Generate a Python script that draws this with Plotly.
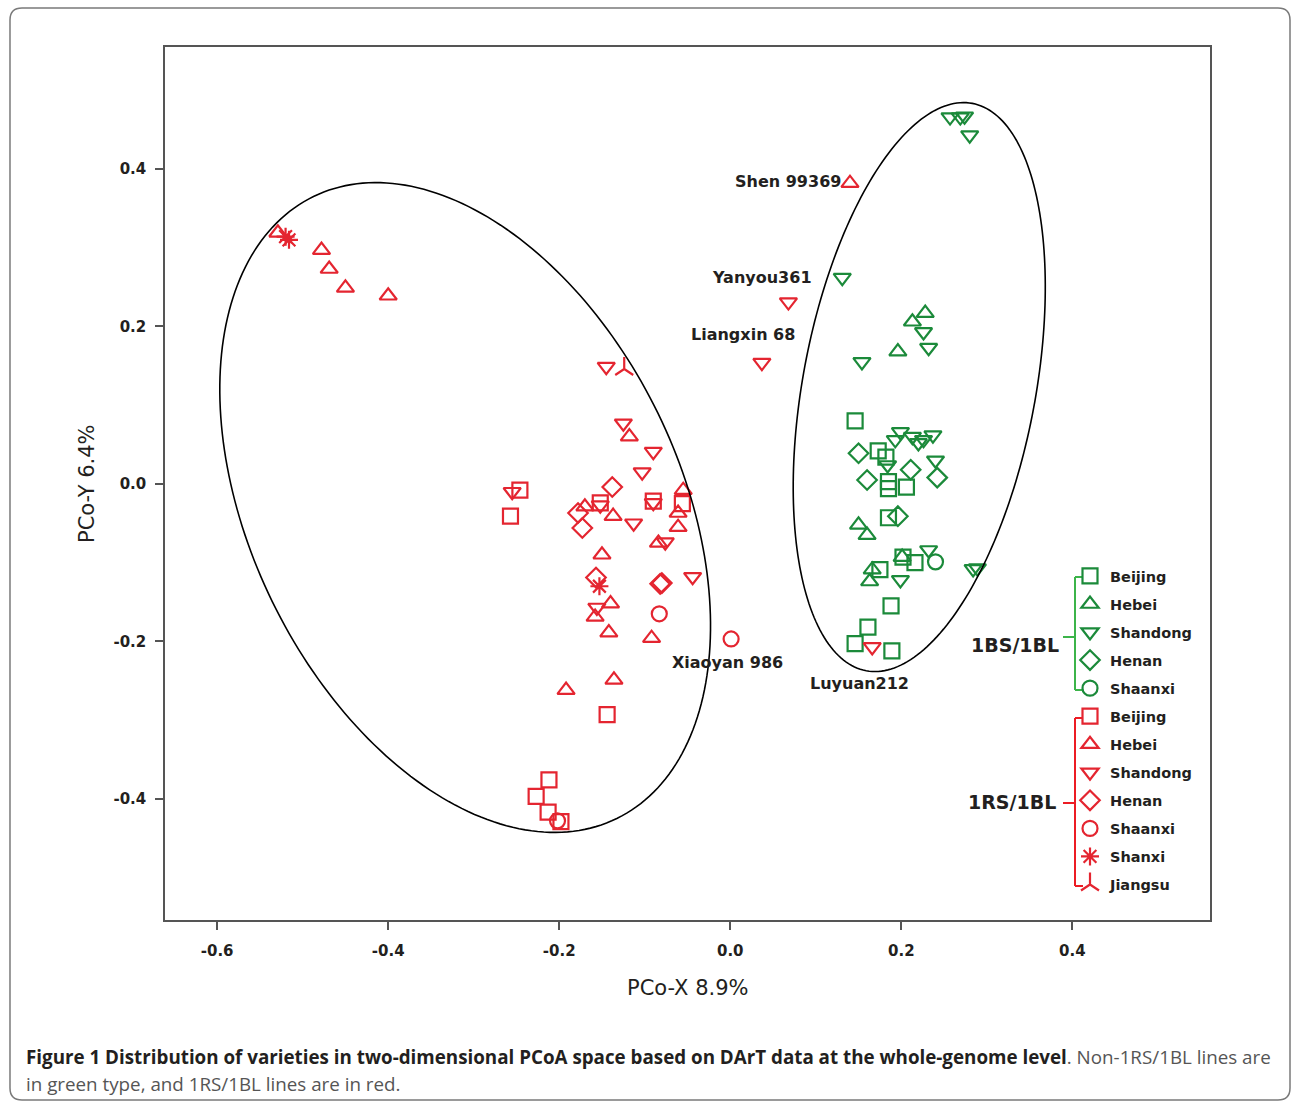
import numpy as np
import plotly.graph_objects as go

# ---------------- data (PCo-X, PCo-Y) ----------------
# 1BS/1BL (green)
g_beijing_x = [0.146, 0.173, 0.182, 0.185, 0.185, 0.206, 0.185, 0.202, 0.216, 0.175, 0.188, 0.161, 0.146, 0.189]
g_beijing_y = [0.080, 0.042, 0.034, 0.003, -0.006, -0.004, -0.043, -0.093, -0.100, -0.109, -0.155, -0.182, -0.203, -0.212]
g_hebei_x = [0.228, 0.213, 0.196, 0.150, 0.160, 0.201, 0.166, 0.163]
g_hebei_y = [0.217, 0.206, 0.168, -0.052, -0.065, -0.093, -0.109, -0.124]
g_shandong_x = [0.257, 0.269, 0.274, 0.280, 0.131, 0.226, 0.232, 0.154, 0.199, 0.193, 0.213, 0.220,
                0.237, 0.226, 0.184, 0.240, 0.232, 0.199, 0.289, 0.284]
g_shandong_y = [0.466, 0.466, 0.467, 0.443, 0.262, 0.193, 0.173, 0.155, 0.066, 0.056, 0.060, 0.052,
                0.062, 0.056, 0.024, 0.030, -0.084, -0.122, -0.107, -0.108]
g_henan_x = [0.150, 0.211, 0.160, 0.242, 0.196]
g_henan_y = [0.039, 0.018, 0.005, 0.008, -0.041]
g_shaanxi_x = [0.240]
g_shaanxi_y = [-0.099]

# 1RS/1BL (red)
r_beijing_x = [-0.246, -0.257, -0.090, -0.056, -0.152, -0.144, -0.212, -0.227, -0.213, -0.198]
r_beijing_y = [-0.008, -0.041, -0.022, -0.025, -0.024, -0.293, -0.376, -0.397, -0.417, -0.429]
r_hebei_x = [-0.529, -0.478, -0.469, -0.450, -0.400, 0.140, -0.118, -0.055, -0.061, -0.061, -0.137,
             -0.170, -0.084, -0.150, -0.140, -0.158, -0.142, -0.092, -0.136, -0.192]
r_hebei_y = [0.319, 0.297, 0.273, 0.249, 0.239, 0.382, 0.060, -0.008, -0.037, -0.055, -0.041,
             -0.029, -0.075, -0.090, -0.152, -0.169, -0.189, -0.196, -0.249, -0.262]
r_shandong_x = [-0.145, -0.125, -0.090, -0.103, -0.255, -0.090, -0.152, -0.113, -0.076, -0.044,
                -0.156, 0.068, 0.037, 0.166]
r_shandong_y = [0.149, 0.077, 0.041, 0.015, -0.010, -0.024, -0.027, -0.050, -0.074, -0.118,
                -0.157, 0.231, 0.154, -0.207]
r_henan_x = [-0.138, -0.178, -0.173, -0.157, -0.080, -0.082]
r_henan_y = [-0.004, -0.037, -0.056, -0.119, -0.126, -0.127]
r_shaanxi_x = [-0.083, 0.001, -0.202]
r_shaanxi_y = [-0.165, -0.197, -0.428]
r_shanxi_x = [-0.516, -0.520, -0.153]
r_shanxi_y = [0.310, 0.314, -0.130]
r_jiangsu_x = [-0.124]
r_jiangsu_y = [0.146]

# labelled varieties
label_names = ["Shen 99369", "Yanyou361", "Liangxin 68", "Xiaoyan 986", "Luyuan212"]
label_x = [0.140, 0.068, 0.037, 0.001, 0.166]
label_y = [0.382, 0.231, 0.154, -0.197, -0.207]

# tick labels
x_tickvals = [-0.6, -0.4, -0.2, 0.0, 0.2, 0.4]
x_ticktext = ["-0.6", "-0.4", "-0.2", "0.0", "0.2", "0.4"]
y_tickvals = [-0.4, -0.2, 0.0, 0.2, 0.4]
y_ticktext = ["-0.4", "-0.2", "0.0", "0.2", "0.4"]

# ---------------- layout constants ----------------
W, H = 1292, 1102
ML, MR, MT, MB = 165, 82, 47, 182
PW, PH = W - ML - MR, H - MT - MB
X_RANGE = [-0.661, 0.561]
Y_RANGE = [-0.554, 0.555]
PX_X = PW / (X_RANGE[1] - X_RANGE[0])
PX_Y = PH / (Y_RANGE[1] - Y_RANGE[0])

GREEN = "#1b8a3a"
RED = "#e42530"
BR_GREEN = "#3cb44a"
BR_RED = "#ec1c24"
TXT = "#231f20"


def paper_x(p):
    return (p - ML) / PW


def paper_y(p):
    return (H - MB - p) / PH


fig = go.Figure()

groups = [
    ("Beijing", "square-open", GREEN, g_beijing_x, g_beijing_y),
    ("Hebei", "triangle-up-open", GREEN, g_hebei_x, g_hebei_y),
    ("Shandong", "triangle-down-open", GREEN, g_shandong_x, g_shandong_y),
    ("Henan", "diamond-open", GREEN, g_henan_x, g_henan_y),
    ("Shaanxi", "circle-open", GREEN, g_shaanxi_x, g_shaanxi_y),
    ("Beijing", "square-open", RED, r_beijing_x, r_beijing_y),
    ("Hebei", "triangle-up-open", RED, r_hebei_x, r_hebei_y),
    ("Shandong", "triangle-down-open", RED, r_shandong_x, r_shandong_y),
    ("Henan", "diamond-open", RED, r_henan_x, r_henan_y),
    ("Shaanxi", "circle-open", RED, r_shaanxi_x, r_shaanxi_y),
    ("Shanxi", "asterisk-open", RED, r_shanxi_x, r_shanxi_y),
    ("Jiangsu", "y-up-open", RED, r_jiangsu_x, r_jiangsu_y),
]

for i, (name, sym, col, xs, ys) in enumerate(groups):
    fig.add_trace(go.Scatter(
        x=xs, y=ys, mode="markers", name=name, legendgroup=f"g{i}",
        marker=dict(symbol=sym, size=15, color=col, line=dict(width=2.2, color=col)),
    ))

# ---------------- ellipses (decoration) ----------------
ellipses = [
    # center (data), semi-axes (px), rotation (deg, screen space)
    (-0.310, -0.030, 346, 214.6, 64.0),
    (0.221, 0.123, 288.6, 116.3, -79.4),
]
shapes = []
t = np.linspace(0, 2 * np.pi, 241)
for cx, cy, a, b, th in ellipses:
    th = np.deg2rad(th)
    dxp = a * np.cos(th) * np.cos(t) - b * np.sin(th) * np.sin(t)
    dyp = a * np.sin(th) * np.cos(t) + b * np.cos(th) * np.sin(t)
    xs = cx + dxp / PX_X
    ys = cy - dyp / PX_Y
    path = "M " + " L ".join(f"{x:.5f},{y:.5f}" for x, y in zip(xs, ys)) + " Z"
    shapes.append(dict(type="path", xref="x", yref="y", path=path,
                       line=dict(color="black", width=1.6), layer="above"))

# ---------------- legend brackets ----------------
def seg(x0, y0, x1, y1, col):
    return dict(type="line", xref="paper", yref="paper",
                x0=paper_x(x0), y0=paper_y(y0), x1=paper_x(x1), y1=paper_y(y1),
                line=dict(color=col, width=2))

shapes += [
    seg(1075, 577, 1075, 690, BR_GREEN), seg(1075, 577, 1083, 577, BR_GREEN),
    seg(1075, 690, 1082, 690, BR_GREEN), seg(1063, 637, 1075, 637, BR_GREEN),
    seg(1075, 718, 1075, 886, BR_RED), seg(1075, 718, 1083, 718, BR_RED),
    seg(1075, 886, 1083, 886, BR_RED), seg(1063, 803, 1075, 803, BR_RED),
]

# outer rounded frame
r = 12
x0, y0, x1, y1 = 10, 8, 1290, 1100
fx = lambda p: f"{paper_x(p):.5f}"
fy = lambda p: f"{paper_y(p):.5f}"
frame_path = (f"M {fx(x0 + r)},{fy(y0)} L {fx(x1 - r)},{fy(y0)} Q {fx(x1)},{fy(y0)} {fx(x1)},{fy(y0 + r)} "
              f"L {fx(x1)},{fy(y1 - r)} Q {fx(x1)},{fy(y1)} {fx(x1 - r)},{fy(y1)} "
              f"L {fx(x0 + r)},{fy(y1)} Q {fx(x0)},{fy(y1)} {fx(x0)},{fy(y1 - r)} "
              f"L {fx(x0)},{fy(y0 + r)} Q {fx(x0)},{fy(y0)} {fx(x0 + r)},{fy(y0)} Z")
shapes.append(dict(type="path", xref="paper", yref="paper", path=frame_path,
                   line=dict(color="#7a7a7a", width=1.5)))

# ---------------- annotations ----------------
ann = []
lab_font = dict(family="DejaVu Sans", size=16, color=TXT, weight="bold")
shifts = [  # (xanchor, xshift, yshift)
    ("right", -7, 2),
    ("right", 26, 25),
    ("right", 35, 28),
    ("center", -4, -24),
    ("center", -13, -37),
]
for nm, lx, ly, (xa, xs_, ys_) in zip(label_names, label_x, label_y, shifts):
    ann.append(dict(x=lx, y=ly, xref="x", yref="y", text=nm, showarrow=False,
                    xanchor=xa, yanchor="middle", xshift=xs_, yshift=ys_, font=lab_font))

ann.append(dict(x=paper_x(1061), y=paper_y(645), xref="paper", yref="paper", text="1BS/1BL",
                showarrow=False, xanchor="right", yanchor="middle",
                font=dict(family="DejaVu Sans", size=19, color=TXT, weight="bold")))
ann.append(dict(x=paper_x(1058), y=paper_y(802), xref="paper", yref="paper", text="1RS/1BL",
                showarrow=False, xanchor="right", yanchor="middle",
                font=dict(family="DejaVu Sans", size=19, color=TXT, weight="bold")))

# axis titles
ann.append(dict(x=0.5, y=paper_y(988), xref="paper", yref="paper", text="PCo-X 8.9%",
                showarrow=False, xanchor="center", yanchor="middle",
                font=dict(family="DejaVu Sans", size=21, color=TXT)))
ann.append(dict(x=paper_x(87), y=paper_y(484), xref="paper", yref="paper", text="PCo-Y 6.4%",
                showarrow=False, xanchor="center", yanchor="middle", textangle=-90,
                font=dict(family="DejaVu Sans", size=21, color=TXT)))

# caption
cap_font = dict(family="Open Sans", size=18.8, color="#555555")
ann.append(dict(x=paper_x(24), y=paper_y(1057), xref="paper", yref="paper",
                text="<b style='color:#231f20'>Figure 1 Distribution of varieties in two-dimensional PCoA space based on DArT data at the whole-genome level</b>. Non-1RS/1BL lines are",
                showarrow=False, xanchor="left", yanchor="middle", font=cap_font))
ann.append(dict(x=paper_x(24), y=paper_y(1084), xref="paper", yref="paper",
                text="in green type, and 1RS/1BL lines are in red.",
                showarrow=False, xanchor="left", yanchor="middle", font=cap_font))

axis_common = dict(
    showgrid=False, zeroline=False, showline=True, mirror=True,
    linecolor="#555555", linewidth=1.5, ticks="outside", ticklen=8, tickwidth=1.5,
    tickcolor="#555555", tickfont=dict(family="DejaVu Sans", size=15, color=TXT, weight="bold"),
)

fig.update_layout(
    width=W, height=H,
    margin=dict(l=ML, r=MR, t=MT, b=MB),
    paper_bgcolor="white", plot_bgcolor="white",
    xaxis=dict(range=X_RANGE, tickvals=x_tickvals, ticktext=x_ticktext,
               ticklabelstandoff=8, **axis_common),
    yaxis=dict(range=Y_RANGE, tickvals=y_tickvals, ticktext=y_ticktext,
               ticklabelstandoff=6, **axis_common),
    showlegend=True,
    legend=dict(x=paper_x(1070), y=paper_y(560), xanchor="left", yanchor="top",
                bgcolor="rgba(0,0,0,0)", tracegroupgap=6.2, traceorder="grouped",
                itemsizing="trace",
                font=dict(family="DejaVu Sans", size=14.5, color=TXT, weight="bold")),
    shapes=shapes,
    annotations=ann,
)

fig.write_html("out.html")
